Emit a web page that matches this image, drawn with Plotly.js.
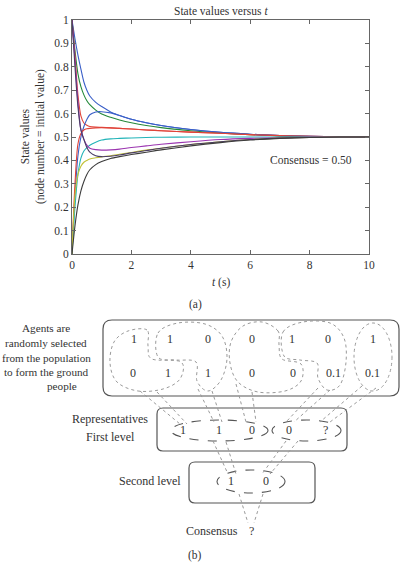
<!DOCTYPE html>
<html>
<head>
<meta charset="utf-8">
<script src="https://cdn.plot.ly/plotly-3.0.1.min.js"></script>
<style>html,body{margin:0;padding:0;background:#fff;}#chart{width:401px;height:564px;}</style>
</head>
<body>
<div id="chart"></div>
<script>
// ---- data ----
const tValues = [0, 0.1, 0.2, 0.3, 0.4, 0.5, 0.6, 0.8, 1, 1.3, 1.6, 2, 2.5, 3, 4, 5, 6, 7, 8, 9, 10];
const blueDown    = [1, 0.92, 0.85, 0.79, 0.735, 0.70, 0.675, 0.648, 0.63, 0.607, 0.592, 0.576, 0.561, 0.549, 0.532, 0.52, 0.512, 0.506, 0.503, 0.501, 0.5];
const greenDown   = [1, 0.87, 0.77, 0.715, 0.68, 0.655, 0.638, 0.615, 0.598, 0.584, 0.573, 0.561, 0.549, 0.54, 0.527, 0.517, 0.51, 0.505, 0.502, 0.501, 0.5];
const redDown     = [1, 0.85, 0.68, 0.59, 0.56, 0.55, 0.545, 0.542, 0.541, 0.539, 0.537, 0.534, 0.53, 0.527, 0.521, 0.516, 0.51, 0.506, 0.503, 0.501, 0.5];
const magentaDown = [1, 0.83, 0.65, 0.53, 0.49, 0.465, 0.452, 0.446, 0.444, 0.445, 0.448, 0.455, 0.462, 0.469, 0.48, 0.489, 0.494, 0.497, 0.499, 0.5, 0.5];
const darkDown    = [1, 0.8, 0.63, 0.53, 0.49, 0.455, 0.435, 0.42, 0.416, 0.418, 0.423, 0.432, 0.442, 0.452, 0.468, 0.48, 0.489, 0.495, 0.498, 0.5, 0.5];
const blueUp      = [0, 0.25, 0.42, 0.5, 0.545, 0.575, 0.595, 0.607, 0.608, 0.603, 0.592, 0.576, 0.561, 0.549, 0.532, 0.52, 0.512, 0.506, 0.503, 0.501, 0.5];
const redUp       = [0, 0.3, 0.47, 0.515, 0.53, 0.535, 0.537, 0.539, 0.54, 0.539, 0.537, 0.534, 0.53, 0.527, 0.521, 0.516, 0.51, 0.506, 0.503, 0.501, 0.5];
const cyanUp      = [0, 0.2, 0.34, 0.41, 0.44, 0.455, 0.465, 0.478, 0.487, 0.492, 0.494, 0.496, 0.498, 0.499, 0.5, 0.5, 0.5, 0.5, 0.5, 0.5, 0.5];
const yellowUp    = [0, 0.25, 0.34, 0.375, 0.392, 0.4, 0.406, 0.411, 0.415, 0.42, 0.426, 0.434, 0.444, 0.452, 0.468, 0.48, 0.489, 0.495, 0.498, 0.5, 0.5];
const blackUp     = [0, 0.12, 0.21, 0.27, 0.31, 0.34, 0.36, 0.382, 0.395, 0.408, 0.416, 0.425, 0.435, 0.445, 0.462, 0.476, 0.487, 0.494, 0.498, 0.5, 0.5];

const xTickVals = [0, 2, 4, 6, 8, 10];
const yTickVals = [0, 0.1, 0.2, 0.3, 0.4, 0.5, 0.6, 0.7, 0.8, 0.9, 1];
const yTickText = ['0', '0.1', '0.2', '0.3', '0.4', '0.5', '0.6', '0.7', '0.8', '0.9', '1'];
const consensusLabel = 'Consensus = 0.50';

// diagram (b) contents
const groundTop    = ['1', '1', '0', '0', '1', '0', '1'];
const groundBottom = ['0', '1', '1', '0', '0', '0.1', '0.1'];
const firstLevel   = ['1', '1', '0', '0', '?'];
const secondLevel  = ['1', '0'];
const agentsText   = ['Agents are', 'randomly selected', 'from the population', 'to form the ground', 'people'];

// ---- styles / geometry ----
const W = 401, H = 564;
const X = px => px / W;
const Y = py => 1 - py / H;
const FONT = 'Liberation Serif, Times New Roman, serif';
const TXT = '#333333';

const series = [
  [blueDown, '#3a5fc8'], [greenDown, '#24883a'], [redDown, '#e0443a'],
  [blueUp, '#3a5fc8'], [redUp, '#e0443a'], [cyanUp, '#22b4b8'],
  [magentaDown, '#9b35b0'], [yellowUp, '#c2c23a'], [darkDown, '#4a3d66'], [blackUp, '#3c3c3c']
];
const traces = series.map(([vals, col]) => ({
  x: tValues, y: vals, type: 'scatter', mode: 'lines',
  line: {color: col, width: 1.1, shape: 'spline', smoothing: 0.8},
  hoverinfo: 'skip', showlegend: false
}));

function catmull(pts) {
  const n = pts.length;
  let d = 'M' + X(pts[0][0]) + ',' + Y(pts[0][1]);
  for (let i = 0; i < n; i++) {
    const p0 = pts[(i - 1 + n) % n], p1 = pts[i], p2 = pts[(i + 1) % n], p3 = pts[(i + 2) % n];
    const c1 = [p1[0] + (p2[0] - p0[0]) / 6, p1[1] + (p2[1] - p0[1]) / 6];
    const c2 = [p2[0] - (p3[0] - p1[0]) / 6, p2[1] - (p3[1] - p1[1]) / 6];
    d += 'C' + X(c1[0]) + ',' + Y(c1[1]) + ' ' + X(c2[0]) + ',' + Y(c2[1]) + ' ' + X(p2[0]) + ',' + Y(p2[1]);
  }
  return d + 'Z';
}
function roundRect(x0, y0, x1, y1, r) {
  const P = (a, b) => X(a) + ',' + Y(b);
  return 'M' + P(x0 + r, y0) + 'L' + P(x1 - r, y0) + 'Q' + P(x1, y0) + ' ' + P(x1, y0 + r) +
    'L' + P(x1, y1 - r) + 'Q' + P(x1, y1) + ' ' + P(x1 - r, y1) +
    'L' + P(x0 + r, y1) + 'Q' + P(x0, y1) + ' ' + P(x0, y1 - r) +
    'L' + P(x0, y0 + r) + 'Q' + P(x0, y0) + ' ' + P(x0 + r, y0) + 'Z';
}
function line(a, b, c, d, style) {
  return {type: 'line', xref: 'paper', yref: 'paper', x0: X(a), y0: Y(b), x1: X(c), y1: Y(d), line: style};
}
const boxLine = {color: '#555', width: 1.2};
const dotLine = {color: '#9a9a9a', width: 1, dash: 'dot'};
const dashLine = {color: '#555', width: 1.1, dash: 'dash'};

const shapes = [];
// rounded boxes
shapes.push({type: 'path', xref: 'paper', yref: 'paper', path: roundRect(103, 320, 399, 396, 9), line: boxLine});
shapes.push({type: 'path', xref: 'paper', yref: 'paper', path: roundRect(157, 408, 347, 451, 6), line: boxLine});
shapes.push({type: 'path', xref: 'paper', yref: 'paper', path: roundRect(189, 462, 315, 503, 6), line: boxLine});
// dotted groups on the ground level
const blobs = [
  [[147, 330], [128, 331], [114, 342], [110, 363], [117, 382], [138, 391], [163, 389], [180, 379], [181, 362], [152, 359], [148, 346]],
  [[158, 333], [178, 323], [205, 324], [222, 336], [227, 358], [221, 380], [208, 391], [197, 381], [196, 362], [176, 360], [158, 357]],
  [[278, 331], [262, 322], [243, 326], [231, 342], [230, 363], [238, 382], [258, 392], [285, 391], [301, 381], [301, 364], [282, 359], [279, 345]],
  [[283, 332], [303, 322], [330, 323], [344, 338], [346, 362], [340, 385], [327, 390], [318, 378], [317, 363], [300, 360], [284, 356]]
];
blobs.forEach(b => shapes.push({type: 'path', xref: 'paper', yref: 'paper', path: catmull(b), line: dotLine}));
shapes.push({type: 'circle', xref: 'paper', yref: 'paper', x0: X(354), x1: X(392), y0: Y(323), y1: Y(391), line: dotLine});
// dashed ellipses
shapes.push({type: 'circle', xref: 'paper', yref: 'paper', x0: X(171), x1: X(268), y0: Y(420), y1: Y(441), line: dashLine});
shapes.push({type: 'circle', xref: 'paper', yref: 'paper', x0: X(272), x1: X(341), y0: Y(420), y1: Y(441), line: dashLine});
shapes.push({type: 'circle', xref: 'paper', yref: 'paper', x0: X(217), x1: X(285), y0: Y(470), y1: Y(493), line: dashLine});
// dotted funnels
const funnels = [
  [140, 391, 157, 392, 180, 424, 187, 424],
  [198, 389, 212, 391, 214, 422, 222, 422],
  [236, 384, 252, 392, 246, 422, 256, 422],
  [318, 388, 330, 390, 286, 422, 294, 422],
  [362, 386, 376, 388, 320, 422, 330, 422],
  [213, 441, 226, 442, 228, 474, 236, 474],
  [286, 441, 298, 441, 262, 474, 270, 474],
  [239, 494, 263, 494, 248, 523, 254, 523]
];
funnels.forEach(f => {
  shapes.push(line(f[0], f[1], f[4], f[5], dotLine));
  shapes.push(line(f[2], f[3], f[6], f[7], dotLine));
});

const annotations = [];
function txt(text, px, py, size, extra) {
  annotations.push(Object.assign({xref: 'paper', yref: 'paper', x: X(px), y: Y(py), xanchor: 'center', yanchor: 'middle',
    text: text, showarrow: false, font: {family: FONT, size: size || 12, color: TXT}}, extra || {}));
}
// chart texts
txt('State values versus <i>t</i>', 220.5, 11, 11.5);
txt('State values<br>(node number = initial value)', 33, 137, 11.5, {textangle: -90});
txt('<i>t</i> (s)', 220.5, 282, 11.5);
txt('(a)', 195, 304, 11.5);
annotations.push({xref: 'x', yref: 'y', x: 8.05, y: 0.4, text: consensusLabel, showarrow: false,
  xanchor: 'center', yanchor: 'middle', font: {family: FONT, size: 11.5, color: TXT}});
// diagram texts
const agentY = [328, 343, 357.5, 372, 386];
const agentX = [46, 46, 46, 46, 62];
agentsText.forEach((s, i) => txt(s, agentX[i], agentY[i], 11.2));
const groundTopX = [134, 170, 208, 252, 292, 328, 373];
const groundBotX = [133, 168, 208, 252, 293, 333, 372];
groundTop.forEach((s, i) => txt(s, groundTopX[i], 339, 12));
groundBottom.forEach((s, i) => txt(s, groundBotX[i], 373, 12));
const firstX = [183, 219, 252, 289, 325];
firstLevel.forEach((s, i) => txt(s, firstX[i], 430, 12));
const secondX = [231, 266];
secondLevel.forEach((s, i) => txt(s, secondX[i], 481, 12));
txt('Representatives', 110, 419, 12);
txt('First level', 110, 437, 12);
txt('Second level', 150, 481, 12);
txt('Consensus', 212, 531, 12);
txt('?', 251, 531, 12);
txt('(b)', 195, 555, 11.5);

const axisCommon = {
  showline: true, mirror: 'ticks', linecolor: '#666', linewidth: 1,
  ticks: 'inside', ticklen: 4, tickcolor: '#666', showgrid: false, zeroline: false,
  tickfont: {family: FONT, size: 11.5, color: TXT}, fixedrange: true
};
const layout = {
  width: W, height: H,
  margin: {l: 0, r: 0, t: 0, b: 0},
  paper_bgcolor: '#fff', plot_bgcolor: '#fff',
  showlegend: false,
  xaxis: Object.assign({}, axisCommon, {domain: [X(72), X(369)], range: [0, 10], tickvals: xTickVals, ticktext: xTickVals.map(String)}),
  yaxis: Object.assign({}, axisCommon, {domain: [Y(254), Y(20)], range: [0, 1], tickvals: yTickVals, ticktext: yTickText}),
  shapes: shapes,
  annotations: annotations
};
Plotly.newPlot('chart', traces, layout, {displayModeBar: false, staticPlot: true});
</script>
</body>
</html>
